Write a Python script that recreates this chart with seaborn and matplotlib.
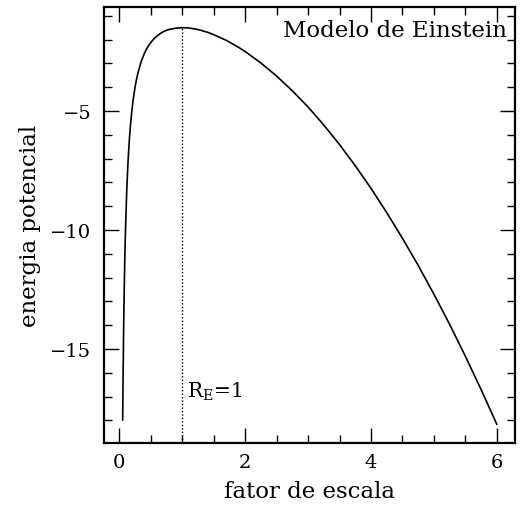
import numpy as np
import pandas as pd
import matplotlib
matplotlib.use("Agg")
import matplotlib.pyplot as plt
import seaborn as sns
from matplotlib.ticker import MultipleLocator

# values
fator_escala = [0.0556, 0.06, 0.07, 0.08, 0.09, 0.10, 0.12, 0.14, 0.16, 0.18,
                0.20, 0.22, 0.25, 0.27, 0.30, 0.35, 0.40, 0.45, 0.50, 0.55,
                0.60, 0.65, 0.70, 0.75, 0.80, 0.90, 1.00, 1.10, 1.20, 1.30,
                1.40, 1.50, 1.60, 1.70, 1.80, 1.90, 2.00, 2.25, 2.50, 2.75,
                3.00, 3.25, 3.50, 3.75, 4.00, 4.25, 4.50, 4.75, 5.00, 5.25,
                5.50, 5.75, 6.00]
energia = [-17.99, -16.67, -14.29, -12.50, -11.12, -10.01, -8.34, -7.15, -6.26, -5.57,
           -5.02, -4.57, -4.03, -3.74, -3.38, -2.92, -2.58, -2.32, -2.13, -1.97,
           -1.85, -1.75, -1.67, -1.61, -1.57, -1.52, -1.50, -1.51, -1.55, -1.61,
           -1.69, -1.79, -1.91, -2.03, -2.18, -2.33, -2.50, -2.98, -3.53, -4.15,
           -4.83, -5.59, -6.41, -7.30, -8.25, -9.27, -10.35, -11.49, -12.70, -13.97,
           -15.31, -16.71, -18.17]
r_einstein = 1.0
v_einstein = -1.50

df = pd.DataFrame({"R": fator_escala, "V": energia})

sns.set_style("ticks")
plt.rcParams["font.family"] = ["DejaVu Serif"]
plt.rcParams["mathtext.fontset"] = "dejavuserif"
plt.rcParams["text.color"] = "black"
plt.rcParams["axes.labelcolor"] = "black"
plt.rcParams["xtick.color"] = "black"
plt.rcParams["ytick.color"] = "black"

fig = plt.figure(figsize=(5.23, 5.06), dpi=100)
ax = fig.add_axes([0.199, 0.1225, 0.786, 0.8617])

sns.lineplot(data=df, x="R", y="V", sort=False, estimator=None,
             color="black", linewidth=1.2, ax=ax)

ax.set_xlim(-0.24, 6.29)
ax.set_ylim(-18.95, -0.63)
ax.vlines(r_einstein, ax.get_ylim()[0], v_einstein, colors="black",
          linestyles=(0, (1, 1.5)), linewidth=1.0)

ax.xaxis.set_major_locator(MultipleLocator(2))
ax.xaxis.set_minor_locator(MultipleLocator(0.5))
ax.yaxis.set_major_locator(MultipleLocator(5))
ax.yaxis.set_minor_locator(MultipleLocator(1))
ax.tick_params(which="both", direction="in", top=True, right=True,
               color="black", labelcolor="black", labelsize=14, width=1.0)
ax.tick_params(which="major", length=11)
ax.tick_params(which="minor", length=5.5)
ax.tick_params(axis="y", pad=9)
ax.tick_params(axis="x", pad=7)
for s in ax.spines.values():
    s.set_linewidth(1.6)
    s.set_color("black")

ax.set_xlabel("fator de escala", fontsize=16.5, labelpad=7)
ax.set_ylabel("energia potencial", fontsize=16.5, labelpad=7)

ax.text(0.98, 0.972, "Modelo de Einstein", transform=ax.transAxes,
        ha="right", va="top", fontsize=16.5)
ax.text(r_einstein + 0.07, -16.76, r"R$_{\rm E}$=1", ha="left", va="center",
        fontsize=14.5)

fig.savefig("out.png", dpi=100)
